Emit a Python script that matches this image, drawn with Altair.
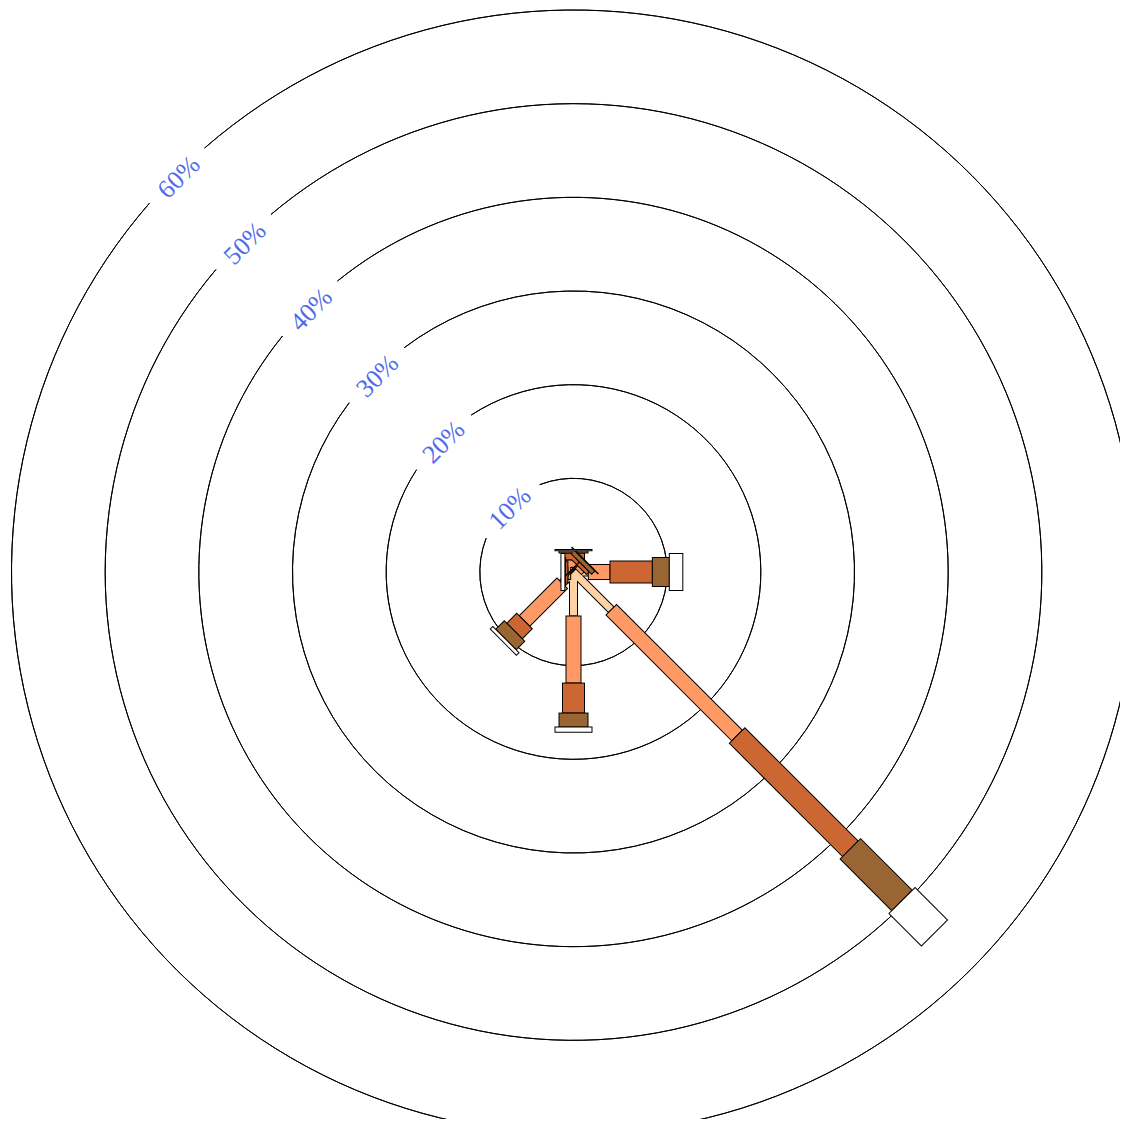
import math
import altair as alt
import pandas as pd

# ---------------- data ----------------
directions = ["N", "NE", "E", "SE", "S", "SW", "W", "NW"]
bearing_deg = [0, 45, 90, 135, 180, 225, 270, 315]
speed_classes = ["class 1", "class 2", "class 3", "class 4", "class 5"]

# percentage of time per direction for each speed class
class1 = [0.50, 0.40, 1.58, 5.70, 4.70, 1.70, 0.30, 0.05]
class2 = [0.80, 0.40, 2.32, 19.00, 7.16, 5.70, 0.30, 0.10]
class3 = [0.73, 0.40, 4.52, 17.10, 3.20, 1.50, 0.25, 0.15]
class4 = [0.25, 0.50, 1.81, 7.80, 1.50, 1.30, 0.07, 0.02]
class5 = [0.12, 0.05, 1.44, 4.90, 0.54, 0.40, 0.42, 0.00]

ring_pct = [10, 20, 30, 40, 50, 60]
ring_labels = ["10%", "20%", "30%", "40%", "50%", "60%"]

# ---------------- style ----------------
colors = ["#FFD1A3", "#FF9966", "#CC6633", "#996633", "#FFFFFF"]
bar_widths = [9, 16, 23, 30, 38]
W, H = 1112, 1111
CX, CY = 565.5, 564.0
R = 562.0
MAXP = 60.0
px_per_pct = R / MAXP
edge = 0.5 / px_per_pct  # half-pixel in data units
label_color = "#4D6CEC"

series = [class1, class2, class3, class4, class5]
rows = []
for k, vals in enumerate(series):
    for d, b, v in zip(directions, bearing_deg, vals):
        rows.append({"dir": d, "bearing": b, "k": k, "speed": speed_classes[k], "value": v})
df = pd.DataFrame(rows)

rings = pd.DataFrame({"pct": ring_pct, "label": ring_labels})

xs = alt.Scale(domain=[-MAXP, MAXP], range=[CX - R, CX + R])
ys = alt.Scale(domain=[-MAXP, MAXP], range=[CY + R, CY - R])
rs = alt.Scale(type="linear", domain=[0, MAXP], range=[0, R], zero=True)
cs = alt.Scale(domain=speed_classes, range=colors)

base = (
    alt.Chart(df)
    .transform_window(
        cum="sum(value)", groupby=["dir"], sort=[alt.SortField("k")], frame=[None, 0]
    )
    .transform_calculate(
        a="datum.bearing * PI / 180",
        r1="datum.cum",
        r0="datum.cum - datum.value",
    )
    .transform_calculate(
        br0=f"datum.r0 - {edge}",
        br1=f"datum.r1 + {edge}",
        cr0=f"datum.r0 + {edge}",
        cr1=f"max(datum.r1 - {edge}, datum.r0 + {edge})",
    )
    .transform_calculate(
        bx0="datum.br0 * sin(datum.a)",
        by0="datum.br0 * cos(datum.a)",
        bx1="datum.br1 * sin(datum.a)",
        by1="datum.br1 * cos(datum.a)",
        cx0="datum.cr0 * sin(datum.a)",
        cy0="datum.cr0 * cos(datum.a)",
        cx1="datum.cr1 * sin(datum.a)",
        cy1="datum.cr1 * cos(datum.a)",
    )
    .transform_filter("datum.value > 0")
)

layers = []

# rings (arcs with a gap for the label)
ring_layer = (
    alt.Chart(rings)
    .transform_calculate(
        t0="7 * PI / 4 + 4.16 / datum.pct",
        t1="7 * PI / 4 + 2 * PI - 4.16 / datum.pct",
    )
    .mark_arc(stroke="black", strokeWidth=1, fillOpacity=0)
    .encode(
        x=alt.XDatum(0, scale=xs, axis=None, type="quantitative"),
        y=alt.YDatum(0, scale=ys, axis=None, type="quantitative"),
        theta=alt.Theta("t0:Q", scale=None),
        theta2=alt.Theta2("t1:Q"),
        radius=alt.Radius("pct:Q", scale=rs),
        radius2=alt.Radius2("pct:Q"),
    )
)
layers.append(ring_layer)

label_layer = (
    alt.Chart(rings)
    .transform_calculate(
        lx="-datum.pct * sin(PI / 4)",
        ly="datum.pct * cos(PI / 4)",
    )
    .mark_text(
        angle=315,
        align="center",
        baseline="middle",
        dy=4,
        font="Liberation Serif",
        fontSize=26,
        color=label_color,
    )
    .encode(
        x=alt.X("lx:Q", scale=xs, axis=None),
        y=alt.Y("ly:Q", scale=ys, axis=None),
        text="label:N",
    )
)
layers.append(label_layer)

for k in range(len(speed_classes)):
    sub = base.transform_filter(f"datum.k == {k}")
    outline = sub.mark_rule(strokeWidth=bar_widths[k], strokeCap="butt", color="black").encode(
        x=alt.X("bx0:Q", scale=xs, axis=None),
        y=alt.Y("by0:Q", scale=ys, axis=None),
        x2="bx1:Q",
        y2="by1:Q",
    )
    fill = sub.mark_rule(strokeWidth=bar_widths[k] - 2, strokeCap="butt").encode(
        x=alt.X("cx0:Q", scale=xs, axis=None),
        y=alt.Y("cy0:Q", scale=ys, axis=None),
        x2="cx1:Q",
        y2="cy1:Q",
        color=alt.Color("speed:N", scale=cs, legend=None),
    )
    layers.append(outline)
    layers.append(fill)

chart = (
    alt.layer(*layers)
    .properties(width=W, height=H, padding=0, autosize=alt.AutoSizeParams(type="none"))
    .configure_view(strokeWidth=0)
)

chart.save("out.html", embed_options={"renderer": "svg", "actions": False})
